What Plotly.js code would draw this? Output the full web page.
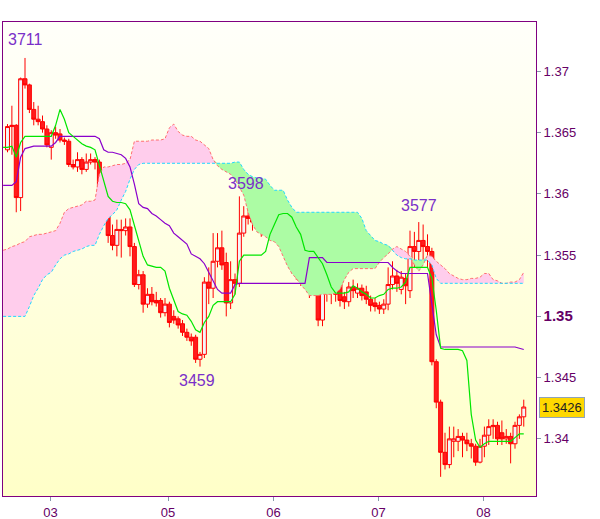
<!DOCTYPE html>
<html><head><meta charset="utf-8">
<script src="https://cdn.plot.ly/plotly-3.0.1.min.js"></script>
<style>
html,body{margin:0;padding:0;background:#fff;}
#wrap{position:relative;width:600px;height:519px;}
#bg{position:absolute;left:3px;top:22px;width:533px;height:474px;background:linear-gradient(to bottom,#fffffa 0%,#ffffde 55%,#ffffc8 100%);}
#chart{position:absolute;left:0;top:0;width:600px;height:519px;}
</style></head><body>
<div id="wrap"><div id="bg"></div><div id="chart"></div></div>
<script>
// Hourly candles (index = hour slot)
const open  = [1.3636,1.3655,1.3656,1.3597,1.3694,1.3689,1.3669,1.3661,1.3659,1.3653,
1.3638,1.3650,1.3649,1.3644,1.3643,1.3624,1.3622,1.3628,1.3620,1.3626,
1.3628,1.3626,1.3594,1.3585,1.3566,1.3558,1.3571,1.3570,1.3573,1.3557,
1.3526,1.3534,1.3510,1.3518,1.3513,1.3513,1.3503,1.3510,1.3500,1.3498,
1.3494,1.3487,1.3483,1.3483,1.3465,1.3469,1.3528,1.3523,1.3545,1.3556,
1.3544,1.3511,1.3530,1.3527,1.3568,1.3582,1.3584,1.3577,1.3582,1.3580,
1.3580,1.3581,1.3584,1.3580,1.3576,1.3561,1.3565,1.3544,1.3544,1.3544,
1.3530,1.3527,1.3497,1.3536,1.3524,1.3518,1.3527,1.3516,1.3512,1.3524,
1.3519,1.3523,1.3520,1.3514,1.3511,1.3509,1.3506,1.3510,1.3526,1.3533,
1.3522,1.3531,1.3521,1.3557,1.3553,1.3562,1.3557,1.3553,1.3463,1.3430,
1.3389,1.3379,1.3398,1.3398,1.3402,1.3399,1.3396,1.3394,1.3381,1.3394,
1.3403,1.3410,1.3411,1.3405,1.3400,1.3402,1.3396,1.3411,1.3418];
const high  = [1.3657,1.3672,1.3657,1.3695,1.3711,1.3690,1.3675,1.3672,1.3664,1.3656,
1.3652,1.3655,1.3653,1.3646,1.3645,1.3628,1.3634,1.3630,1.3633,1.3633,
1.3630,1.3628,1.3596,1.3587,1.3575,1.3579,1.3579,1.3580,1.3580,1.3560,
1.3538,1.3537,1.3523,1.3524,1.3520,1.3515,1.3515,1.3512,1.3505,1.3500,
1.3497,1.3490,1.3486,1.3485,1.3471,1.3532,1.3540,1.3568,1.3568,1.3570,
1.3552,1.3545,1.3535,1.3598,1.3590,1.3590,1.3592,1.3590,1.3589,1.3590,
1.3588,1.3595,1.3587,1.3583,1.3578,1.3570,1.3568,1.3555,1.3552,1.3546,
1.3535,1.3530,1.3546,1.3548,1.3540,1.3530,1.3530,1.3520,1.3528,1.3530,
1.3527,1.3526,1.3525,1.3517,1.3515,1.3512,1.3514,1.3540,1.3545,1.3538,
1.3537,1.3535,1.3570,1.3569,1.3577,1.3575,1.3567,1.3556,1.3465,1.3432,
1.3405,1.3410,1.3410,1.3408,1.3405,1.3405,1.3400,1.3396,1.3400,1.3410,
1.3416,1.3416,1.3414,1.3415,1.3408,1.3405,1.3414,1.3420,1.3432];
const low   = [1.3634,1.3632,1.3585,1.3586,1.3686,1.3666,1.3656,1.3656,1.3650,1.3638,
1.3628,1.3645,1.3642,1.3640,1.3622,1.3620,1.3618,1.3616,1.3618,1.3624,
1.3620,1.3590,1.3576,1.3560,1.3554,1.3549,1.3548,1.3566,1.3549,1.3524,
1.3522,1.3503,1.3507,1.3509,1.3508,1.3499,1.3500,1.3491,1.3494,1.3490,
1.3484,1.3480,1.3476,1.3462,1.3459,1.3466,1.3510,1.3515,1.3540,1.3538,
1.3500,1.3506,1.3518,1.3524,1.3565,1.3575,1.3570,1.3572,1.3565,1.3570,
1.3575,1.3578,1.3570,1.3570,1.3552,1.3535,1.3530,1.3525,1.3530,1.3515,
1.3520,1.3492,1.3492,1.3512,1.3510,1.3512,1.3508,1.3506,1.3508,1.3515,
1.3515,1.3513,1.3510,1.3504,1.3504,1.3502,1.3502,1.3505,1.3522,1.3520,
1.3518,1.3510,1.3515,1.3540,1.3540,1.3545,1.3540,1.3460,1.3425,1.3369,
1.3375,1.3376,1.3385,1.3390,1.3385,1.3390,1.3384,1.3378,1.3380,1.3385,
1.3395,1.3400,1.3395,1.3395,1.3396,1.3380,1.3392,1.3400,1.3410];
const close = [1.3655,1.3656,1.3597,1.3694,1.3689,1.3669,1.3661,1.3659,1.3653,1.3640,
1.3650,1.3648,1.3644,1.3643,1.3624,1.3622,1.3628,1.3620,1.3626,1.3628,
1.3626,1.3594,1.3585,1.3566,1.3558,1.3571,1.3570,1.3573,1.3557,1.3526,
1.3534,1.3510,1.3518,1.3512,1.3511,1.3503,1.3510,1.3495,1.3497,1.3493,
1.3487,1.3483,1.3480,1.3465,1.3469,1.3528,1.3523,1.3545,1.3556,1.3542,
1.3511,1.3530,1.3527,1.3568,1.3582,1.3580,1.3577,1.3582,1.3579,1.3581,
1.3582,1.3595,1.3580,1.3576,1.3561,1.3565,1.3544,1.3542,1.3539,1.3530,
1.3527,1.3497,1.3536,1.3524,1.3520,1.3524,1.3513,1.3512,1.3524,1.3521,
1.3523,1.3517,1.3514,1.3509,1.3508,1.3506,1.3510,1.3526,1.3533,1.3527,
1.3532,1.3525,1.3557,1.3553,1.3562,1.3557,1.3553,1.3463,1.3430,1.3389,
1.3379,1.3400,1.3400,1.3402,1.3399,1.3396,1.3394,1.3381,1.3394,1.3403,
1.3410,1.3411,1.3400,1.3400,1.3402,1.3396,1.3411,1.3418,1.3426];

// Indicator lines, starting one slot before the first candle
const tenkan = [1.3638,1.3638,1.3639,1.3630,1.3642,1.3647,1.3647,1.3647,1.3647,1.3647,
1.3647,1.3647,1.3656,1.3669,1.3661,1.3650,1.3647,1.3644,1.3641,1.3639,
1.3638,1.3636,1.3624,1.3611,1.3598,1.3594,1.3593,1.3593,1.3592,1.3587,
1.3575,1.3562,1.3549,1.3542,1.3541,1.3540,1.3540,1.3537,1.3523,1.3514,
1.3504,1.3502,1.3501,1.3496,1.3489,1.3487,1.3495,1.3500,1.3509,1.3512,
1.3512,1.3512,1.3512,1.3518,1.3545,1.3550,1.3550,1.3550,1.3550,1.3550,
1.3553,1.3567,1.3575,1.3583,1.3584,1.3584,1.3581,1.3573,1.3567,1.3554,
1.3553,1.3553,1.3548,1.3543,1.3534,1.3524,1.3519,1.3519,1.3519,1.3520,
1.3525,1.3523,1.3520,1.3518,1.3515,1.3515,1.3517,1.3518,1.3522,1.3523,
1.3523,1.3524,1.3528,1.3540,1.3540,1.3540,1.3540,1.3540,1.3531,1.3505,
1.3474,1.3473,1.3473,1.3473,1.3473,1.3472,1.3464,1.3420,1.3399,1.3393,
1.3396,1.3398,1.3398,1.3398,1.3398,1.3398,1.3398,1.3401,1.3404,1.3404];
const kijun = [1.3607,1.3607,1.3607,1.3610,1.3630,1.3637,1.3638,1.3639,1.3639,1.3639,
1.3639,1.3639,1.3642,1.3647,1.3647,1.3647,1.3647,1.3647,1.3647,1.3647,
1.3647,1.3647,1.3645,1.3636,1.3634,1.3634,1.3633,1.3632,1.3629,1.3622,
1.3608,1.3592,1.3589,1.3588,1.3584,1.3582,1.3579,1.3576,1.3574,1.3568,
1.3565,1.3562,1.3559,1.3551,1.3549,1.3547,1.3543,1.3536,1.3528,1.3522,
1.3519,1.3519,1.3519,1.3526,1.3527,1.3527,1.3527,1.3527,1.3527,1.3527,
1.3527,1.3527,1.3527,1.3527,1.3527,1.3527,1.3527,1.3527,1.3527,1.3527,
1.3548,1.3548,1.3548,1.3548,1.3544,1.3544,1.3544,1.3544,1.3544,1.3544,
1.3544,1.3544,1.3544,1.3544,1.3544,1.3544,1.3544,1.3544,1.3544,1.3540,
1.3537,1.3535,1.3535,1.3535,1.3535,1.3535,1.3535,1.3535,1.3510,1.3485,
1.3475,1.3475,1.3475,1.3475,1.3475,1.3475,1.3475,1.3475,1.3475,1.3475,
1.3475,1.3475,1.3475,1.3475,1.3475,1.3475,1.3475,1.3475,1.3474,1.3473];
const spanPink = [1.3554,1.3555,1.3557,1.3558,1.3560,1.3561,1.3565,1.3566,1.3567,1.3567,
1.3568,1.3569,1.3570,1.3576,1.3585,1.3588,1.3589,1.3590,1.3591,1.3594,
1.3594,1.3595,1.3616,1.3622,1.3622,1.3623,1.3624,1.3624,1.3625,1.3628,
1.3643,1.3643,1.3643,1.3643,1.3644,1.3644,1.3644,1.3645,1.3654,1.3657,
1.3651,1.3648,1.3647,1.3647,1.3644,1.3643,1.3640,1.3637,1.3628,1.3623,
1.3620,1.3618,1.3616,1.3612,1.3605,1.3599,1.3585,1.3575,1.3569,1.3567,
1.3565,1.3562,1.3561,1.3557,1.3549,1.3541,1.3535,1.3531,1.3526,1.3522,
1.3517,1.3517,1.3517,1.3518,1.3518,1.3518,1.3519,1.3522,1.3530,1.3536,
1.3539,1.3539,1.3539,1.3539,1.3539,1.3539,1.3544,1.3548,1.3551,1.3555,
1.3557,1.3555,1.3553,1.3549,1.3542,1.3537,1.3542,1.3550,1.3549,1.3545,
1.3542,1.3539,1.3535,1.3533,1.3531,1.3530,1.3530,1.3531,1.3531,1.3532,
1.3535,1.3535,1.3530,1.3529,1.3527,1.3527,1.3528,1.3528,1.3530,1.3536];
const spanCyan = [1.3500,1.3500,1.3500,1.3500,1.3500,1.3500,1.3508,1.3517,1.3523,1.3530,
1.3534,1.3536,1.3542,1.3547,1.3550,1.3551,1.3553,1.3554,1.3555,1.3557,
1.3558,1.3558,1.3567,1.3574,1.3580,1.3583,1.3587,1.3595,1.3602,1.3612,
1.3620,1.3624,1.3625,1.3625,1.3625,1.3625,1.3625,1.3625,1.3625,1.3625,
1.3625,1.3625,1.3625,1.3625,1.3625,1.3625,1.3625,1.3625,1.3625,1.3625,
1.3625,1.3625,1.3625,1.3626,1.3626,1.3620,1.3616,1.3614,1.3613,1.3613,
1.3612,1.3607,1.3603,1.3603,1.3603,1.3595,1.3589,1.3585,1.3585,1.3585,
1.3585,1.3585,1.3585,1.3585,1.3585,1.3585,1.3585,1.3585,1.3585,1.3585,
1.3585,1.3585,1.3580,1.3570,1.3566,1.3562,1.3561,1.3559,1.3558,1.3554,
1.3550,1.3548,1.3547,1.3547,1.3546,1.3546,1.3546,1.3546,1.3542,1.3531,
1.3527,1.3527,1.3527,1.3527,1.3527,1.3527,1.3527,1.3527,1.3527,1.3527,
1.3527,1.3527,1.3527,1.3527,1.3527,1.3527,1.3527,1.3527,1.3527,1.3527];

const dayLabels = ['03','05','06','07','08'];
const dayTickPos = [9.8, 36.7, 60.8, 84.8, 108.8];
const priceTicks = [1.34, 1.345, 1.35, 1.355, 1.36, 1.365, 1.37];
const priceTickText = ['1.34','1.345','<span style="font-size:15px"><b>1.35</b></span>','1.355','1.36','1.365','1.37'];
const extremeWindows = [{from:0,to:20,kind:'high',dx:0,dy:18},{from:45,to:70,kind:'high',dx:7,dy:13},
  {from:85,to:100,kind:'high',dx:0,dy:17},{from:30,to:60,kind:'low',dx:-3,dy:-14}];

const idxC = open.map((_, i) => i);
const idxL = tenkan.map((_, i) => i - 1);
const upperPink = spanPink.map((v, i) => Math.max(v, spanCyan[i]));
const upperGreen = spanCyan.map((v, i) => Math.max(v, spanPink[i]));

const traces = [
  {x: idxL, y: spanCyan, mode:'lines', line:{width:0}, hoverinfo:'skip'},
  {x: idxL, y: upperPink, mode:'lines', line:{width:0}, fill:'tonexty', fillcolor:'#ffcdec', hoverinfo:'skip'},
  {x: idxL, y: spanPink, mode:'lines', line:{width:0}, hoverinfo:'skip'},
  {x: idxL, y: upperGreen, mode:'lines', line:{width:0}, fill:'tonexty', fillcolor:'#acfca4', hoverinfo:'skip'},
  {x: idxL, y: spanPink, mode:'lines', line:{color:'#ff6f70', width:1, dash:'3px,2px'}, hoverinfo:'skip'},
  {x: idxL, y: spanCyan, mode:'lines', line:{color:'#1fd8ff', width:1, dash:'3px,2px'}, hoverinfo:'skip'},
  {type:'candlestick', x: idxC, open: open, high: high, low: low, close: close,
   increasing:{line:{color:'#ff0000', width:1}, fillcolor:'#f4f4f8'},
   decreasing:{line:{color:'#ff0000', width:1}, fillcolor:'#ff1c1c'},
   whiskerwidth:0, hoverinfo:'skip'},
  {x: idxL, y: kijun, mode:'lines', line:{color:'#8a00cc', width:1.2}, hoverinfo:'skip'},
  {x: idxL, y: tenkan, mode:'lines', line:{color:'#00e600', width:1.2}, hoverinfo:'skip'}
];

const annotations = extremeWindows.map(w => {
  let best = w.from;
  for (let i = w.from; i <= w.to; i++) {
    if (w.kind === 'high' ? high[i] > high[best] : low[i] < low[best]) best = i;
  }
  const val = w.kind === 'high' ? high[best] : low[best];
  return {x: best, y: val, xref:'x', yref:'y', text: String(Math.round(val*10000)).slice(1),
    showarrow:false, xshift:w.dx, yshift:w.dy,
    font:{family:'Liberation Sans, Arial, sans-serif', size:16, color:'#7a2fc8'}};
});
const last = close[close.length-1];
annotations.push({x:1, xref:'paper', xanchor:'left', xshift:3, y:last, yref:'y', text:last.toFixed(4),
  showarrow:false, bgcolor:'#ffd800', bordercolor:'#8fa3b8', borderwidth:1, borderpad:2,
  font:{family:'Liberation Sans, Arial, sans-serif', size:13, color:'#222222'}});

const axisFont = {family:'Liberation Sans, Arial, sans-serif', size:13, color:'#660066'};
const layout = {
  width:600, height:519, margin:{l:3, r:64, t:22, b:23, pad:0},
  paper_bgcolor:'rgba(0,0,0,0)', plot_bgcolor:'rgba(0,0,0,0)',
  showlegend:false, boxgap:0.05, boxgroupgap:0.05,
  xaxis:{range:[-1.03,120.8], tickmode:'array', tickvals:dayTickPos, ticktext:dayLabels,
    ticks:'outside', ticklen:4, tickcolor:'#8899aa', showgrid:false, zeroline:false,
    showline:true, mirror:true, linecolor:'#800080', linewidth:1, tickfont:axisFont,
    rangeslider:{visible:false}, fixedrange:true},
  yaxis:{side:'right', range:[1.335335,1.374036], tickmode:'array', tickvals:priceTicks, ticktext:priceTickText,
    ticks:'outside', ticklen:4, tickcolor:'#8899aa', showgrid:false, zeroline:false,
    showline:true, mirror:true, linecolor:'#800080', linewidth:1, tickfont:axisFont, fixedrange:true},
  annotations: annotations
};
Plotly.newPlot('chart', traces, layout, {displayModeBar:false, staticPlot:true});
</script></body></html>
